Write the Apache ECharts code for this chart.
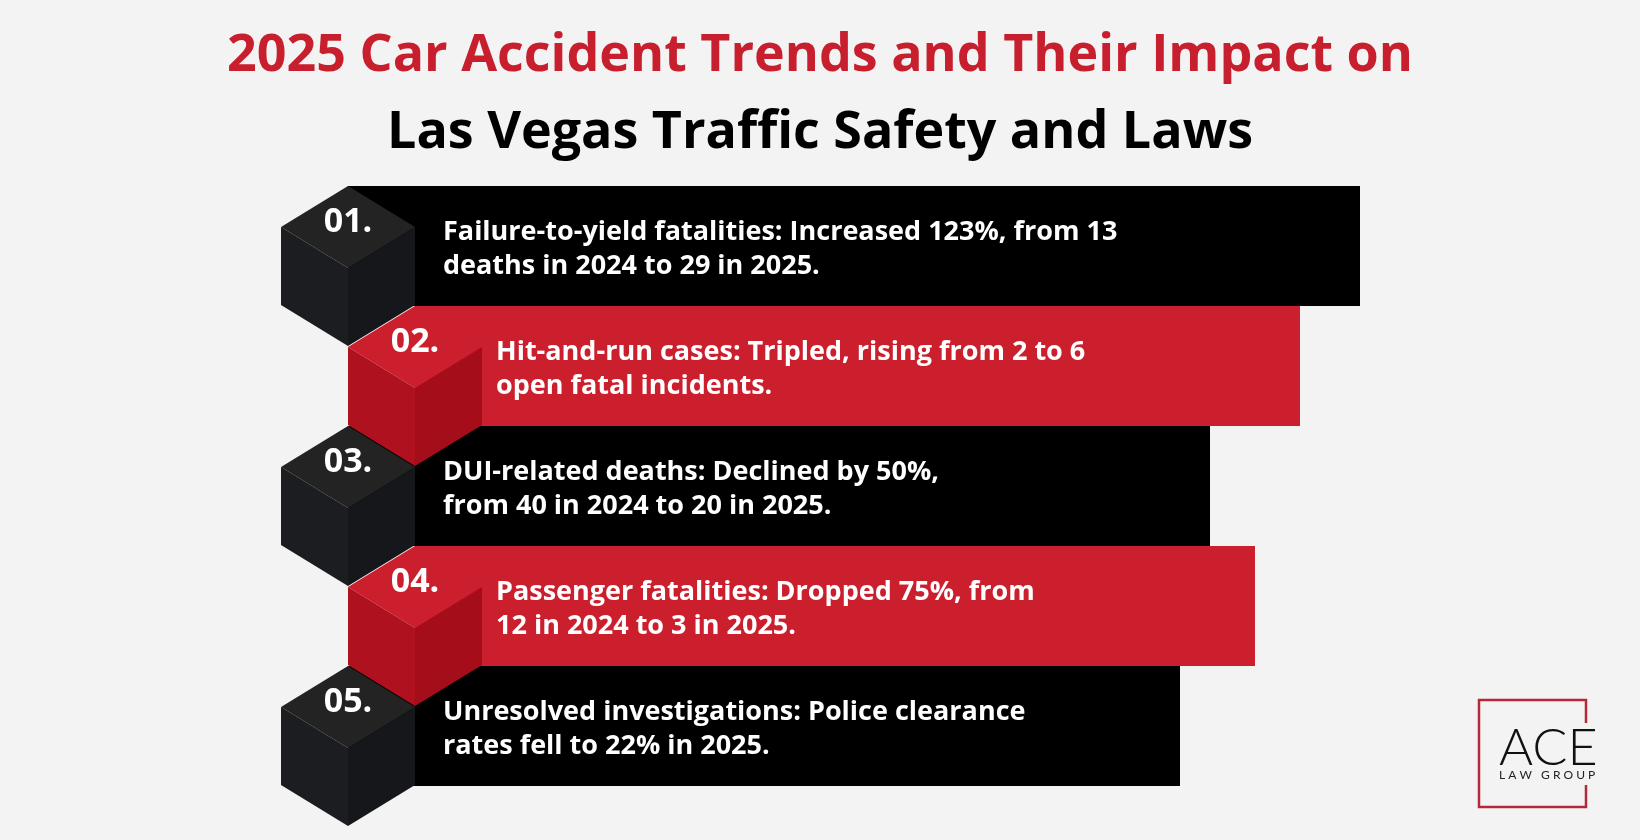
<!DOCTYPE html>
<html>
<head>
<meta charset="utf-8">
<script src="https://cdn.jsdelivr.net/npm/echarts@6/dist/echarts.min.js"></script>
<style>
html,body{margin:0;padding:0;background:#f3f3f3;}
#main{width:1640px;height:840px;}
</style>
</head>
<body>
<div id="main"></div>
<script>
// rows of the infographic
var rowNums = ['01.', '02.', '03.', '04.', '05.'];
var rowLine1 = [
  'Failure-to-yield fatalities: Increased 123%, from 13',
  'Hit-and-run cases: Tripled, rising from 2 to 6',
  'DUI-related deaths: Declined by 50%,',
  'Passenger fatalities: Dropped 75%, from',
  'Unresolved investigations: Police clearance'
];
var rowLine2 = [
  'deaths in 2024 to 29 in 2025.',
  'open fatal incidents.',
  'from 40 in 2024 to 20 in 2025.',
  '12 in 2024 to 3 in 2025.',
  'rates fell to 22% in 2025.'
];
var barEnds = [1360, 1300, 1210, 1255, 1180];
var rowKinds = ['black', 'red', 'black', 'red', 'black'];

var palette = {
  black: { bar: '#000000', top: '#232323', left: '#1c1d20', right: '#16171a' },
  red:   { bar: '#cc1f2e', top: '#cc1f2e', left: '#b0111f', right: '#a50d1b' }
};

var myChart = echarts.init(document.getElementById('main'));
var font = '"Open Sans", Inter, sans-serif';

function barItem(params, api) {
  var i = api.value(0);
  var end = api.coord([api.value(1), i]);
  var bandH = api.size([0, 1])[1];
  var top = end[1] - bandH / 2;
  var odd = i % 2;
  var startX = api.coord([348 + 67 * odd, i])[0];
  var tx = odd ? 496 : 443;
  var kind = rowKinds[i];
  return {
    type: 'group',
    children: [
      { type: 'rect', shape: { x: startX, y: top, width: end[0] - startX, height: bandH },
        style: { fill: palette[kind].bar } },
      { type: 'text', style: { x: tx, y: top + 46, text: rowLine1[i], fill: '#fff',
        font: 'bold 27px ' + font, verticalAlign: 'middle' } },
      { type: 'text', style: { x: tx, y: top + 80, text: rowLine2[i], fill: '#fff',
        font: 'bold 27px ' + font, verticalAlign: 'middle' } }
    ]
  };
}

function cubeItem(params, api) {
  var i = api.value(0);
  var c = api.coord([348 + 67 * (i % 2), i]);
  var bandH = api.size([0, 1])[1];
  var top = c[1] - bandH / 2;
  var cx = c[0], h = 67, f = 41, s = 78;
  var col = palette[rowKinds[i]];
  return {
    type: 'group',
    children: [
      { type: 'polygon', shape: { points: [[cx, top], [cx + h, top + f], [cx, top + 2 * f], [cx - h, top + f]] },
        style: { fill: col.top } },
      { type: 'polygon', shape: { points: [[cx - h, top + f], [cx, top + 2 * f], [cx, top + 2 * f + s], [cx - h, top + f + s]] },
        style: { fill: col.left } },
      { type: 'polygon', shape: { points: [[cx + h, top + f], [cx, top + 2 * f], [cx, top + 2 * f + s], [cx + h, top + f + s]] },
        style: { fill: col.right } },
      { type: 'text', style: { x: cx, y: top + 36, text: rowNums[i], fill: '#fff',
        font: 'bold 34px ' + font, align: 'center', verticalAlign: 'middle' } }
    ]
  };
}

var barData = rowNums.map(function (n, i) { return [i, barEnds[i]]; });
var cubeData = rowNums.map(function (n, i) { return [i]; }).reverse();

var option = {
  backgroundColor: '#f3f3f3',
  animation: false,
  title: [{
    text: '2025 Car Accident Trends and Their Impact on',
    left: 'center', top: 25,
    textStyle: { color: '#c81f2e', fontSize: 52, fontWeight: 'bold', fontFamily: font }
  }, {
    text: 'Las Vegas Traffic Safety and Laws',
    left: 'center', top: 102,
    textStyle: { color: '#000', fontSize: 52, fontWeight: 'bold', fontFamily: font }
  }],
  grid: { left: 0, right: 0, top: 186, height: 600 },
  xAxis: { type: 'value', min: 0, max: 1640, show: false },
  yAxis: { type: 'category', data: rowNums, inverse: true, show: false },
  series: [{
    type: 'custom', z: 1, renderItem: barItem, data: barData,
    encode: { x: 1, y: 0 }
  }, {
    type: 'custom', z: 2, renderItem: cubeItem, data: cubeData,
    encode: { y: 0 }
  }],
  graphic: [
    { type: 'polyline', shape: { points: [[1586, 723], [1586, 700], [1479, 700], [1479, 807], [1586, 807], [1586, 785]] },
      style: { stroke: '#b5283a', lineWidth: 2.5, fill: null } },
    { type: 'text', left: 1499, top: 722,
      style: { text: 'ACE', font: '300 52px Lato, "Open Sans", sans-serif', fill: '#111' } },
    { type: 'text', left: 1499, top: 769,
      style: { text: 'L A W   G R O U P', font: '12px Lato, sans-serif', fill: '#222' } }
  ]
};
myChart.setOption(option);
</script>
</body>
</html>
